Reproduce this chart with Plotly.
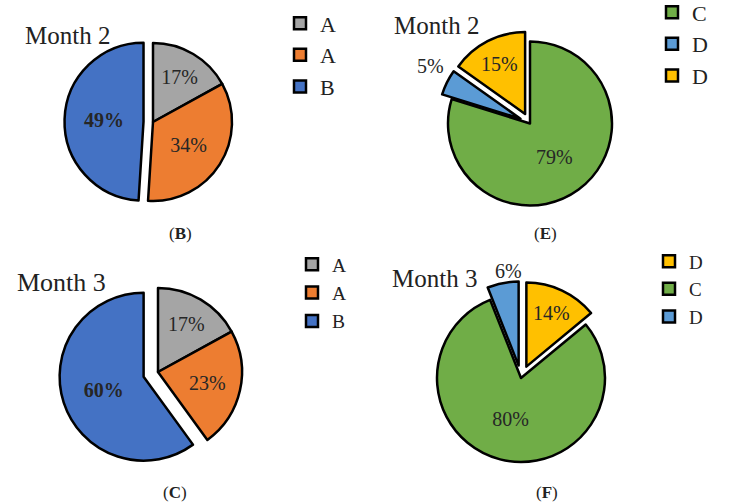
import plotly.graph_objects as go

# ---- data ----
labels_b = ["A", "A\u200b", "B"]
values_b = [17, 34, 49]
text_b = ["17%", "34%", "<b>49%</b>"]
colors_b = ["#A5A5A5", "#ED7D31", "#4472C4"]
pull_b = [0, 0, 0.12]

labels_e = ["C", "D", "D\u200b"]
values_e = [79, 5, 15]
text_e = ["79%", "5%", "15%"]
colors_e = ["#70AD47", "#5B9BD5", "#FFC000"]
pull_e = [0, 0.13, 0.13]

labels_c = ["A\u200b\u200b", "A\u200b\u200b\u200b", "B\u200b"]
values_c = [17, 23, 60]
text_c = ["17%", "23%", "<b>60%</b>"]
colors_c = ["#A5A5A5", "#ED7D31", "#4472C4"]
pull_c = [0, 0, 0.18]

labels_f = ["D\u200b\u200b", "C\u200b", "D\u200b\u200b\u200b"]
values_f = [14, 80, 6]
text_f = ["14%", "80%", "6%"]
colors_f = ["#FFC000", "#70AD47", "#5B9BD5"]
pull_f = [0.15, 0, 0.15]

titles = ["Month 2", "Month 2", "Month 3", "Month 3"]
panel_tags = ["(<b>B</b>)", "(<b>E</b>)", "(<b>C</b>)", "(<b>F</b>)"]

W, H = 729, 504
FONT = "Liberation Serif"
TXT = "#262626"


def fx(x):
    return x / W


def fy(y):
    return 1 - y / H


def dom(cx, cy, half):
    return dict(x=[fx(cx - half), fx(cx + half)], y=[fy(cy + half), fy(cy - half)])


fig = go.Figure()

common = dict(sort=False, direction="clockwise", rotation=0,
              textinfo="text", insidetextorientation="horizontal",
              hoverinfo="label+value")
line = dict(color="black", width=2.5)

fig.add_trace(go.Pie(labels=labels_b, values=values_b, text=text_b,
                     marker=dict(colors=colors_b, line=line),
                     pull=pull_b, textposition="inside",
                     textfont=dict(family=FONT, size=20, color=TXT),
                     domain=dom(153, 122, 79 * 1.12), legend="legend", **common))

fig.add_trace(go.Pie(labels=labels_e, values=values_e, text=text_e,
                     marker=dict(colors=colors_e, line=line),
                     pull=pull_e, textposition=["inside", "none", "inside"],
                     textfont=dict(family=FONT, size=20, color=TXT),
                     domain=dom(530, 123.5, 82 * 1.13), legend="legend2", **common))

fig.add_trace(go.Pie(labels=labels_c, values=values_c, text=text_c,
                     marker=dict(colors=colors_c, line=line),
                     pull=pull_c, textposition="inside",
                     textfont=dict(family=FONT, size=20, color=TXT),
                     domain=dom(158, 372, 84 * 1.18), legend="legend3", **common))

fig.add_trace(go.Pie(labels=labels_f, values=values_f, text=text_f,
                     marker=dict(colors=colors_f, line=line),
                     pull=pull_f, textposition=["inside", "inside", "none"],
                     textfont=dict(family=FONT, size=20, color=TXT),
                     domain=dom(521, 378, 84 * 1.15), legend="legend4", **common))


def leg(x, top, size):
    return dict(x=fx(x), y=fy(top), xanchor="left", yanchor="top",
                bgcolor="rgba(0,0,0,0)", borderwidth=0,
                font=dict(family=FONT, size=size, color="#222222"))


annotations = []
title_pos = [(23, 36, 25), (392, 25, 25), (15, 282, 26), (390, 278, 25)]
for t, (x, y, s) in zip(titles, title_pos):
    annotations.append(dict(text=t, x=fx(x), y=fy(y), xref="paper", yref="paper",
                            xanchor="left", yanchor="middle", showarrow=False,
                            font=dict(family=FONT, size=s, color="#222222")))
tag_pos = [(180, 233), (545, 233), (175, 492), (547, 492)]
for t, (x, y) in zip(panel_tags, tag_pos):
    annotations.append(dict(text=t, x=fx(x), y=fy(y), xref="paper", yref="paper",
                            xanchor="center", yanchor="middle", showarrow=False,
                            font=dict(family=FONT, size=17, color="#222222")))
# outside slice labels (small slices)
for t, (x, y) in [(text_e[1], (430, 66)), (text_f[2], (508, 271))]:
    annotations.append(dict(text=t, x=fx(x), y=fy(y), xref="paper", yref="paper",
                            xanchor="center", yanchor="middle", showarrow=False,
                            font=dict(family=FONT, size=20, color=TXT)))

fig.update_layout(
    width=W, height=H,
    margin=dict(l=0, r=0, t=0, b=0, autoexpand=False),
    paper_bgcolor="white", plot_bgcolor="white",
    font=dict(family=FONT),
    legend=leg(280, 2.4, 22),
    legend2=leg(652, -8.6, 22),
    legend3=leg(292, 245, 19.5),
    legend4=leg(649, 242.3, 19),
    annotations=annotations,
)

fig.write_html("out.html", config={"displayModeBar": False},
               post_script="document.body.style.margin='0px';")
